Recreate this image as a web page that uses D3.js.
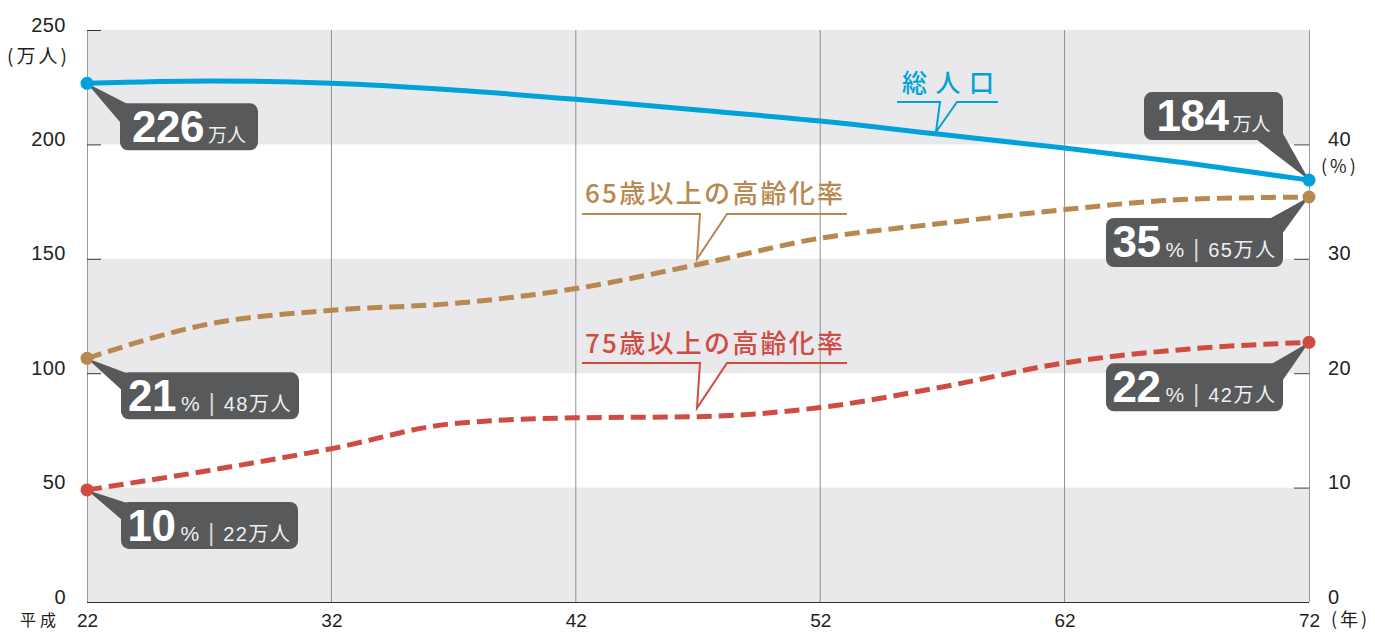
<!DOCTYPE html>
<html><head><meta charset="utf-8">
<script src="https://cdn.jsdelivr.net/npm/d3@7"></script>
<style>
html,body{margin:0;padding:0;background:#fff;}
svg{display:block;}
</style></head>
<body>
<svg id="chart" width="1375" height="632"></svg>
<script>
// ---- data ----
const years = [22, 27, 32, 37, 42, 47, 52, 57, 62, 67, 72];
const totalPop = [226.7, 227.7, 226.7, 223.8, 219.7, 215.0, 210.2, 204.3, 198.4, 191.9, 184.4]; // 万人
const rate65 = [21.3, 24.3, 25.5, 26.1, 27.4, 29.5, 31.8, 33.1, 34.3, 35.2, 35.4]; // %
const rate75 = [9.8, 11.5, 13.4, 15.6, 16.1, 16.2, 17.0, 18.8, 20.9, 22.1, 22.7];  // %
const leftTicks = [0, 50, 100, 150, 200, 250];
const rightTicks = [0, 10, 20, 30, 40];
const xTicks = [22, 32, 42, 52, 62, 72];
const popLabels = ["226", "184"];
const rate65Labels = ["21", "35"];
const pop65Labels = ["48", "65"];
const rate75Labels = ["10", "22"];
const pop75Labels = ["22", "42"];
const seriesNames = ["総人口", "65歳以上の高齢化率", "75歳以上の高齢化率"];

// ---- setup ----
const svg = d3.select("#chart");
const L = 87, R = 1309, T = 30, B = 602;
const x = d3.scaleLinear().domain([22, 72]).range([L, R]);
const yL = d3.scaleLinear().domain([0, 250]).range([B, T]);
const yR = d3.scaleLinear().domain([0, 50]).range([B, T]);

const BLUE = "#00a2d9", GOLD = "#b7884f", RED = "#d04b42", BOX = "#58595b", BAND = "#e9e9ec";
const NUMFONT = "'Liberation Sans', Arial, 'Noto Sans CJK JP', sans-serif";
const JPFONT = "'Noto Sans CJK JP', sans-serif";

// bands
const bands = [[0, 50], [100, 150], [200, 250]];
svg.append("g").selectAll("rect").data(bands).join("rect")
  .attr("x", L).attr("width", R - L)
  .attr("y", d => yL(d[1])).attr("height", d => yL(d[0]) - yL(d[1]))
  .attr("fill", BAND);

// vertical grid
svg.append("g").selectAll("line").data(xTicks.slice(1, -1)).join("line")
  .attr("x1", d => x(d)).attr("x2", d => x(d)).attr("y1", T).attr("y2", B)
  .attr("stroke", "#8f8f8f").attr("stroke-width", 1);

// left axis
const axL = svg.append("g").attr("transform", `translate(${L},0)`)
  .call(d3.axisLeft(yL).tickValues(leftTicks).tickSize(-14).tickPadding(21));
axL.select(".domain").attr("stroke", "#9a9a9a").attr("d", `M0.5,${T}V${B}`);
axL.selectAll(".tick line").attr("stroke", "#333");
axL.selectAll(".tick text").attr("dy", "0").attr("y", 1)
  .attr("font-family", NUMFONT).attr("font-size", 20).attr("fill", "#231f20")
  .attr("letter-spacing", 0.5);

// right axis
const axR = svg.append("g").attr("transform", `translate(${R},0)`)
  .call(d3.axisRight(yR).tickValues(rightTicks).tickSize(-15).tickPadding(34));
axR.select(".domain").attr("stroke", "#9a9a9a").attr("d", `M0.5,${T}V${B}`);
axR.selectAll(".tick line").attr("stroke", "#444");
axR.selectAll(".tick text").attr("dy", "0").attr("y", 1).attr("text-anchor", "start").attr("x", 19)
  .attr("font-family", NUMFONT).attr("font-size", 20).attr("fill", "#231f20")
  .attr("letter-spacing", 0.5);

// bottom axis
const axB = svg.append("g").attr("transform", `translate(0,${B})`)
  .call(d3.axisBottom(x).tickValues(xTicks).tickSize(0).tickPadding(14));
axB.select(".domain").attr("stroke", "#333").attr("d", `M${L},0.5H${R}`);
axB.selectAll(".tick text").attr("dy", "0").attr("y", 25)
  .attr("font-family", NUMFONT).attr("font-size", 19).attr("fill", "#231f20");

// unit labels
svg.append("text").attr("x", 7).attr("y", 63).attr("letter-spacing", 3)
  .attr("font-family", JPFONT).attr("font-size", 19).attr("fill", "#231f20").text("(万人)");
svg.append("text").attr("x", 1321).attr("y", 173).attr("letter-spacing", 3)
  .attr("font-family", JPFONT).attr("font-size", 18).attr("fill", "#231f20").text("(%)");
svg.append("text").attr("x", 20).attr("y", 626).attr("letter-spacing", 4)
  .attr("font-family", JPFONT).attr("font-size", 16).attr("fill", "#231f20").text("平成");
svg.append("text").attr("x", 1331).attr("y", 626).attr("letter-spacing", 3)
  .attr("font-family", JPFONT).attr("font-size", 18).attr("fill", "#231f20").text("(年)");

// lines
const linePop = d3.line().x((d, i) => x(years[i])).y(d => yL(d)).curve(d3.curveMonotoneX);
const lineRate = d3.line().x((d, i) => x(years[i])).y(d => yR(d)).curve(d3.curveMonotoneX);

svg.append("path").attr("d", linePop(totalPop)).attr("fill", "none")
  .attr("stroke", BLUE).attr("stroke-width", 5);
svg.append("path").attr("d", lineRate(rate65)).attr("fill", "none")
  .attr("stroke", GOLD).attr("stroke-width", 5).attr("stroke-dasharray", "15,7");
svg.append("path").attr("d", lineRate(rate75)).attr("fill", "none")
  .attr("stroke", RED).attr("stroke-width", 5).attr("stroke-dasharray", "15,7");

// series name callouts (underline speech marks)
function seriesLabel(text, color, tx, ty, len, fs, ulY, x0, x1, legL, legR, tipX, tipY) {
  const g = svg.append("g");
  g.append("text").attr("x", tx).attr("y", ty).attr("textLength", len).attr("lengthAdjust", "spacing")
    .attr("font-family", JPFONT).attr("font-weight", 500).attr("font-size", fs).attr("fill", color).text(text);
  g.append("path").attr("d", `M${x0},${ulY}H${legL}L${tipX},${tipY}L${legR},${ulY}H${x1}`)
    .attr("fill", "none").attr("stroke", color).attr("stroke-width", 2).attr("stroke-linejoin", "miter");
}
seriesLabel(seriesNames[0], BLUE, 902, 92, 92, 25, 102, 897, 998, 940, 957, 936, 132);
seriesLabel(seriesNames[1], GOLD, 585, 203, 258, 26, 214, 582, 847, 700, 727, 697, 259);
seriesLabel(seriesNames[2], RED, 585, 353, 258, 26, 363, 582, 847, 700, 727, 697, 408);

// value callouts
function callout(cx, cy, x0, y0, w, h, ptr, parts) {
  const g = svg.append("g");
  g.append("path").attr("d", "M" + [[cx, cy]].concat(ptr).map(p => p.join(",")).join("L") + "Z").attr("fill", BOX);
  g.append("rect").attr("x", x0).attr("y", y0).attr("width", w).attr("height", h).attr("rx", 8).attr("fill", BOX);
  const t = g.append("text").attr("x", x0 + w / 2).attr("y", y0 + 39).attr("text-anchor", "middle")
    .attr("font-family", NUMFONT);
  parts.forEach(p => {
    const s = t.append("tspan").text(p.t).attr("font-size", p.fs).attr("fill", p.c || "#fff");
    if (p.bold) s.attr("font-weight", "bold");
    if (p.dx) s.attr("dx", p.dx);
    if (p.ls) s.attr("letter-spacing", p.ls);
  });
}
function popParts(v) {
  return [{ t: v, fs: 44, bold: true, ls: -0.5 }, { t: "万人", fs: 19, dx: 4, c: "#f0f0f0" }];
}
function rateParts(r, p) {
  return [{ t: r, fs: 44, bold: true, ls: -0.5 }, { t: "%", fs: 21, dx: 5, c: "#f0f0f0" },
          { t: "|", fs: 23, dx: 9, c: "#d8d8d8" }, { t: p + "万人", fs: 20, dx: 9, c: "#f0f0f0", ls: 1.5 }];
}
const n = years.length - 1;
// start points
{
  const cx = x(years[0]), cy = yL(totalPop[0]);
  const x0 = cx + 33, y0 = cy + 20;
  callout(cx, cy, x0, y0, 138, 47, [[x0 + 8, y0 + 1], [x0 + 1, y0 + 20]], popParts(popLabels[0]));
}
{
  const cx = x(years[0]), cy = yR(rate65[0]);
  const x0 = cx + 34, y0 = cy + 14;
  callout(cx, cy, x0, y0, 178, 47, [[x0 + 6, y0 + 1], [x0 + 1, y0 + 18]], rateParts(rate65Labels[0], pop65Labels[0]));
}
{
  const cx = x(years[0]), cy = yR(rate75[0]);
  const x0 = cx + 34, y0 = cy + 12;
  callout(cx, cy, x0, y0, 177, 47, [[x0 + 6, y0 + 1], [x0 + 1, y0 + 18]], rateParts(rate75Labels[0], pop75Labels[0]));
}
// end points
{
  const cx = x(years[n]), cy = yL(totalPop[n]);
  const x1 = cx - 26, y0 = cy - 88, x0 = x1 - 139, y1 = y0 + 48;
  callout(cx, cy, x0, y0, 139, 48, [[x1 - 27, y1 - 1], [x1 - 2, y1 - 10]], popParts(popLabels[1]));
}
{
  const cx = x(years[n]), cy = yR(rate65[n]);
  const x1 = cx - 26, y0 = cy + 21, x0 = x1 - 177;
  callout(cx, cy, x0, y0, 177, 49, [[x1 - 14, y0 + 1], [x1 - 1, y0 + 16]], rateParts(rate65Labels[1], pop65Labels[1]));
}
{
  const cx = x(years[n]), cy = yR(rate75[n]);
  const x1 = cx - 26, y0 = cy + 21, x0 = x1 - 177;
  callout(cx, cy, x0, y0, 177, 48, [[x1 - 12, y0 + 1], [x1 - 1, y0 + 18]], rateParts(rate75Labels[1], pop75Labels[1]));
}

// dots
const dots = [
  { v: yL(totalPop[0]), c: BLUE, xx: years[0] }, { v: yL(totalPop[n]), c: BLUE, xx: years[n] },
  { v: yR(rate65[0]), c: GOLD, xx: years[0] }, { v: yR(rate65[n]), c: GOLD, xx: years[n] },
  { v: yR(rate75[0]), c: RED, xx: years[0] }, { v: yR(rate75[n]), c: RED, xx: years[n] }
];
svg.append("g").selectAll("circle").data(dots).join("circle")
  .attr("cx", d => x(d.xx)).attr("cy", d => d.v).attr("r", 6.5).attr("fill", d => d.c);
</script>
</body></html>
